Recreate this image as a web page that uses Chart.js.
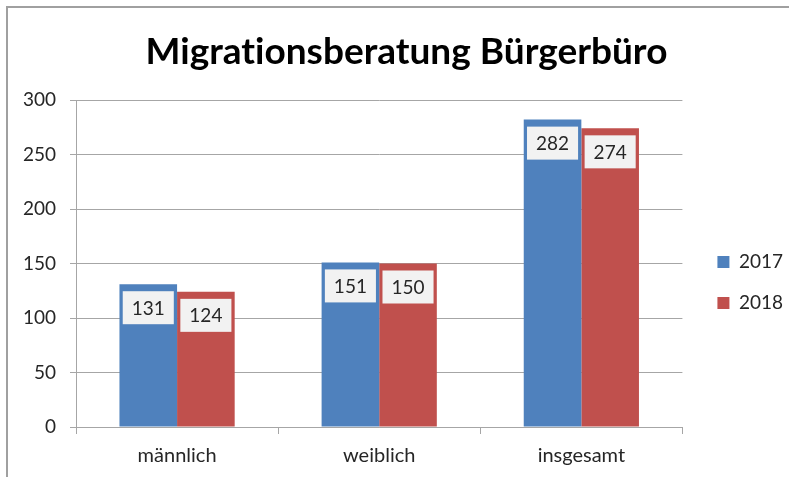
<!DOCTYPE html>
<html>
<head>
<meta charset="utf-8">
<script src="https://cdn.jsdelivr.net/npm/chart.js@4.4.0/dist/chart.umd.min.js"></script>
<style>
  html, body { margin: 0; padding: 0; background: #ffffff; }
  #wrap { width: 789px; height: 477px; position: relative; }
  canvas { font-variant-ligatures: none; }
</style>
</head>
<body>
<div id="wrap"><canvas id="c" width="789" height="477"></canvas></div>
<script>
const categories = ['männlich', 'weiblich', 'insgesamt'];
const series2017 = [131, 151, 282];
const series2018 = [124, 150, 274];
const seriesNames = ['2017', '2018'];
const yTicks = [0, 50, 100, 150, 200, 250, 300];
const chartTitle = 'Migrationsberatung Bürgerbüro';

const FONT = 'Lato, Carlito, Calibri, "Open Sans", sans-serif';
const GRID = '#a6a6a6';

const framePlugin = {
  id: 'frame',
  beforeDraw(chart) {
    const ctx = chart.ctx;
    try { ctx.textRendering = 'optimizeSpeed'; } catch (e) {}
    ctx.save();
    ctx.fillStyle = '#ffffff';
    ctx.fillRect(0, 0, chart.width, chart.height);
    ctx.strokeStyle = '#a0a0a0';
    ctx.lineWidth = 2;
    ctx.beginPath();
    ctx.moveTo(7, chart.height);
    ctx.lineTo(7, 7);
    ctx.lineTo(chart.width, 7);
    ctx.stroke();
    ctx.restore();
  }
};

const labelPlugin = {
  id: 'valueBoxes',
  afterDatasetsDraw(chart) {
    const ctx = chart.ctx;
    ctx.save();
    ctx.font = '19px ' + FONT;
    ctx.textAlign = 'center';
    ctx.textBaseline = 'middle';
    chart.data.datasets.forEach((ds, di) => {
      const meta = chart.getDatasetMeta(di);
      meta.data.forEach((bar, i) => {
        const txt = String(ds.data[i]);
        const w = ctx.measureText(txt).width + 18;
        const h = 33;
        const top = bar.y + 7;
        ctx.fillStyle = '#f2f2f2';
        ctx.fillRect(bar.x - w / 2, top, w, h);
        ctx.fillStyle = '#262626';
        ctx.fillText(txt, bar.x, top + h / 2 + 1);
      });
    });
    ctx.restore();
  }
};

new Chart(document.getElementById('c'), {
  type: 'bar',
  data: {
    labels: categories,
    datasets: [
      { label: seriesNames[0], data: series2017, backgroundColor: '#4f81bd', borderWidth: 0 },
      { label: seriesNames[1], data: series2018, backgroundColor: '#c0504d', borderWidth: 0 }
    ]
  },
  options: {
    responsive: false,
    animation: false,
    devicePixelRatio: 1,
    layout: { padding: { top: 0, left: 20, right: -4, bottom: 0 } },
    datasets: { bar: { categoryPercentage: 0.57, barPercentage: 1.0 } },
    plugins: {
      title: {
        display: true,
        text: chartTitle,
        color: '#000000',
        font: { family: FONT, size: 37, weight: 'bold' },
        padding: { top: 30, bottom: 25.6 }
      },
      legend: {
        position: 'right',
        title: { display: true, text: '', font: { size: 10 }, padding: 38 },
        labels: {
          boxWidth: 12,
          boxHeight: 12,
          padding: 22,
          color: '#262626',
          font: { family: FONT, size: 19 }
        }
      },
      tooltip: { enabled: false }
    },
    scales: {
      x: {
        offset: true,
        afterFit(s) { s.height = 50; },
        grid: { display: true, drawOnChartArea: false, drawTicks: true, tickLength: 7, color: GRID, offset: true },
        border: { display: true, color: GRID, width: 1 },
        ticks: { color: '#262626', font: { family: FONT, size: 20 }, padding: 10 }
      },
      y: {
        min: 0,
        max: 300,
        afterFit(s) { s.width = 56; },
        afterBuildTicks(s) { s.ticks = yTicks.map(v => ({ value: v })); },
        grid: { color: GRID, tickLength: 6, drawTicks: true },
        border: { display: true, color: GRID, width: 1 },
        ticks: { color: '#262626', font: { family: FONT, size: 19 }, padding: 14 }
      },
      pad: {
        type: 'linear',
        position: 'right',
        display: true,
        afterFit(s) { s.width = 13; },
        grid: { display: false, drawTicks: false },
        border: { display: false },
        ticks: { display: false }
      }
    }
  },
  plugins: [framePlugin, labelPlugin]
});
</script>
</body>
</html>
